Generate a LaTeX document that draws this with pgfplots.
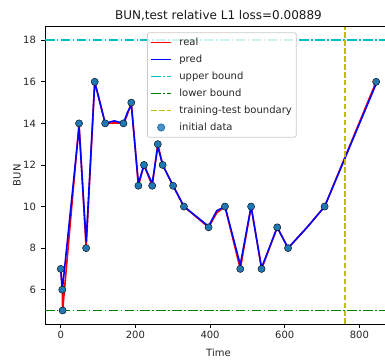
\documentclass[border=0pt]{standalone}
\usepackage{fontspec}
\setmainfont{DejaVu Sans}
\usepackage{pgfplots}
\pgfplotsset{compat=1.18}

\definecolor{mplblue}{HTML}{1F77B4}
\definecolor{mplcyan}{HTML}{00BFBF}
\definecolor{mplgreen}{HTML}{008000}
\definecolor{mplolive}{HTML}{BFBF00}

\tikzset{
  dashdotmpl/.style={dash pattern=on 9.6pt off 2.4pt on 1.5pt off 2.4pt},
  dashedmpl/.style={dash pattern=on 5.55pt off 2.4pt},
  curve/.style={line width=1.6pt, line join=round, line cap=round},
}

\begin{document}
\begin{tikzpicture}[x=1pt,y=1pt]
\begin{axis}[
  name=ax, at={(0,0)}, anchor=south west,
  scale only axis, width=346.9pt, height=297.3pt,
  xmin=-42.25, xmax=887.25, ymin=4.35, ymax=18.65,
  xtick={0,200,...,800}, ytick={6,8,...,18},
  tick align=outside, major tick length=3.5pt,
  tick style={black, line width=0.8pt},
  axis line style={line width=0.8pt},
  xtick pos=bottom, ytick pos=left,
  ticklabel style={font=\fontsize{10}{12}\selectfont, text=black!85},
  yticklabel style={xshift=-2pt},
  /pgf/number format/assume math mode=true,
  xlabel={Time}, ylabel={BUN},
  label style={font=\fontsize{10}{12}\selectfont, text=black!85},
  xlabel style={at={(axis description cs:0.5,-0.111)}, anchor=base},
  ylabel style={at={(axis description cs:-0.0700,0.5)}, anchor=base},
  title={BUN,test relative L1 loss=0.00889},
  every axis title shift=0pt,
  title style={font=\fontsize{12}{14}\selectfont, text=black!90,
    at={(axis description cs:0.5,1.025)}, anchor=base, yshift=0pt},
  legend cell align=left,
  legend style={
    at={(axis description cs:0.294,0.981)}, anchor=north west,
    draw=black!20, rounded corners=2pt, line width=0.8pt,
    fill=white, fill opacity=0.8, draw opacity=1, text opacity=1,
    font=\fontsize{10}{12}\selectfont, text=black!85,
    inner xsep=3pt, inner ysep=3.5pt, row sep=4.5pt,
    nodes={inner sep=1.5pt, text height=7.5pt, text depth=2pt},
    /tikz/every odd column/.append style={column sep=6pt},
  },
]

% initial observations (drawn underneath the curves)
\addplot[only marks, mark=*, mark size=3.6pt,
  mark options={draw=none, fill=mplblue}, forget plot] coordinates {
  (0,7) (4,6) (5,5) (49,14) (68,8) (91,16) (119,14) (168,14) (189,15)
  (208,11) (223,12) (245,11) (260,13) (273,12) (301,11) (330,10)
  (396,9) (440,10) (481,7) (510,10) (538,7) (580,9) (609,8) (707,10)
  (845,16)
};

% real series
\addplot[red, curve, forget plot] coordinates {
  (0,7) (4,6) (5,5) (49,14) (68,8) (91,16) (119,14) (143,14.02) (168,14)
  (178,14.4) (189,15) (208,11) (223,12) (245,11) (260,13) (273,12)
  (301,11) (330,10) (396,9) (418,9.7) (440,10) (481,7) (510,10) (538,7)
  (580,9) (609,8) (660,9) (707,10) (845,16)
};

% predicted series
\addplot[blue, curve, forget plot] coordinates {
  (0,7) (4,6) (6,6.3) (49,13.8) (68,8.3) (91,16) (119,14) (143,14.12)
  (168,14) (178,14.5) (189,14.9) (208,11.1) (223,12) (245,11.1)
  (260,12.9) (273,12) (301,11) (330,10) (396,9.05) (418,9.8) (440,10)
  (481,7.2) (510,10) (538,7.05) (580,9) (609,8) (660,9) (707,10)
  (845,15.9)
};

% bounds
\addplot[mplcyan, line width=1.6pt, dashdotmpl, forget plot] coordinates {
  (-42.25,18) (887.25,18)
};
\addplot[mplgreen, line width=1.6pt, dashdotmpl, forget plot] coordinates {
  (-42.25,5) (887.25,5)
};

% split between training and test parts
\addplot[mplolive, line width=1.6pt, dashedmpl, forget plot] coordinates {
  (762,4.35) (762,18.65)
};

% legend swatches
\addlegendimage{legend image code/.code={
  \draw[red, line width=1.6pt, solid] (0pt,0pt) -- (19.9pt,0pt);}}
\addlegendentry{real}
\addlegendimage{legend image code/.code={
  \draw[blue, line width=1.6pt, solid] (0pt,0pt) -- (19.9pt,0pt);}}
\addlegendentry{pred}
\addlegendimage{legend image code/.code={
  \draw[mplcyan, line width=1.6pt, dashdotmpl] (0pt,0pt) -- (19.9pt,0pt);}}
\addlegendentry{upper bound}
\addlegendimage{legend image code/.code={
  \draw[mplgreen, line width=1.6pt, dashdotmpl] (0pt,0pt) -- (19.9pt,0pt);}}
\addlegendentry{lower bound}
\addlegendimage{legend image code/.code={
  \draw[mplolive, line width=1.6pt, dashedmpl] (0pt,0pt) -- (19.9pt,0pt);}}
\addlegendentry{training-test boundary}
\addlegendimage{legend image code/.code={
  \fill[mplblue] (9.95pt,0pt) circle (3.6pt);}}
\addlegendentry{initial data}

\end{axis}
\pgfresetboundingbox
\path[use as bounding box] (-45pt,-37pt) rectangle (340pt,324pt);
\end{tikzpicture}
\end{document}
